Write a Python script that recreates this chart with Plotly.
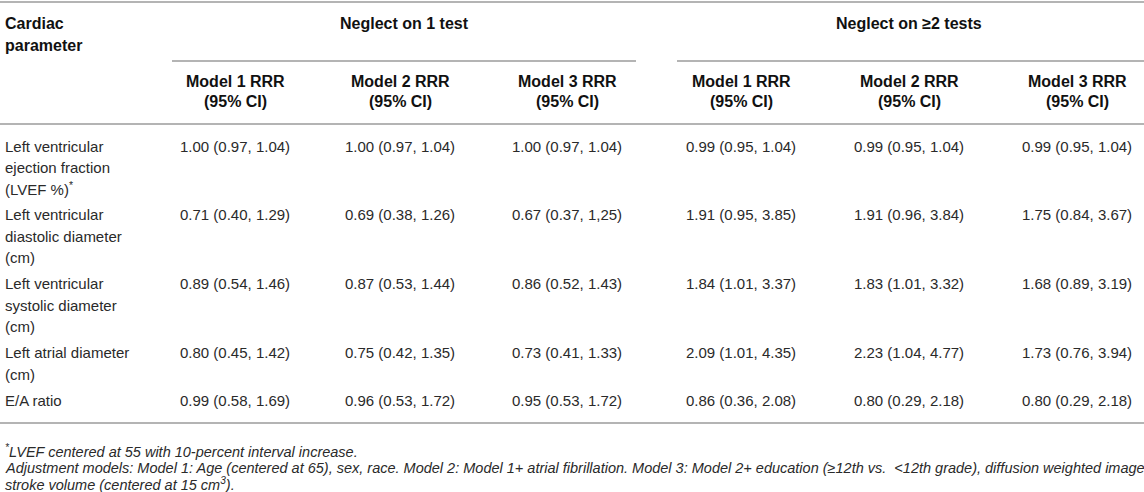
import plotly.graph_objects as go

# ---------------- data ----------------
parameters = [
    ["Left ventricular", "ejection fraction", "(LVEF %)<sup>*</sup>"],
    ["Left ventricular", "diastolic diameter", "(cm)"],
    ["Left ventricular", "systolic diameter", "(cm)"],
    ["Left atrial diameter", "(cm)"],
    ["E/A ratio"],
]
group_titles = ["Neglect on 1 test", "Neglect on ≥2 tests"]
model_headers = ["Model 1 RRR", "Model 2 RRR", "Model 3 RRR"]
ci_header = "(95% CI)"
stub_header = ["Cardiac", "parameter"]

one_test_m1 = ["1.00 (0.97, 1.04)", "0.71 (0.40, 1.29)", "0.89 (0.54, 1.46)", "0.80 (0.45, 1.42)", "0.99 (0.58, 1.69)"]
one_test_m2 = ["1.00 (0.97, 1.04)", "0.69 (0.38, 1.26)", "0.87 (0.53, 1.44)", "0.75 (0.42, 1.35)", "0.96 (0.53, 1.72)"]
one_test_m3 = ["1.00 (0.97, 1.04)", "0.67 (0.37, 1,25)", "0.86 (0.52, 1.43)", "0.73 (0.41, 1.33)", "0.95 (0.53, 1.72)"]
two_test_m1 = ["0.99 (0.95, 1.04)", "1.91 (0.95, 3.85)", "1.84 (1.01, 3.37)", "2.09 (1.01, 4.35)", "0.86 (0.36, 2.08)"]
two_test_m2 = ["0.99 (0.95, 1.04)", "1.91 (0.96, 3.84)", "1.83 (1.01, 3.32)", "2.23 (1.04, 4.77)", "0.80 (0.29, 2.18)"]
two_test_m3 = ["0.99 (0.95, 1.04)", "1.75 (0.84, 3.67)", "1.68 (0.89, 3.19)", "1.73 (0.76, 3.94)", "0.80 (0.29, 2.18)"]

footnotes = [
    "<sup>*</sup>LVEF centered at 55 with 10-percent interval increase.",
    "Adjustment models: Model 1: Age (centered at 65), sex, race. Model 2: Model 1+ atrial fibrillation. "
    "Model 3: Model 2+ education (≥12th vs.  &lt;12th grade), diffusion weighted image",
    "stroke volume (centered at 15 cm<sup>3</sup>).",
]

# ---------------- layout ----------------
W, H = 1144, 492
FONT = "Liberation Sans"
BODY = dict(family=FONT, size=15, color="#2a2a2a")
BOLD = dict(family=FONT, size=16, color="#111111")
FOOT = dict(family=FONT, size=14.5, color="#2a2a2a")
LINE = dict(color="#b4b4b4", width=2)

col_x = [235, 400, 567, 741, 909, 1077]
group_span = [(172, 636), (677, 1144)]
stub_x = 3

columns = [one_test_m1, one_test_m2, one_test_m3, two_test_m1, two_test_m2, two_test_m3]

fig = go.Figure()
ann = []


def txt(x, y, s, font, xanchor="center"):
    ann.append(dict(x=x, y=y, xref="x", yref="y", text=s, showarrow=False,
                    xanchor=xanchor, yanchor="middle", font=font, align="left"))


# header
txt(stub_x, 23, "<b>%s</b>" % stub_header[0], BOLD, "left")
txt(stub_x, 45, "<b>%s</b>" % stub_header[1], BOLD, "left")
for g, (a, b) in enumerate(group_span):
    txt((a + b) / 2 - (2 if g else 0), 23, "<b>%s</b>" % group_titles[g], BOLD)
for i, cx in enumerate(col_x):
    txt(cx, 81, "<b>%s</b>" % model_headers[i % 3], BOLD)
    txt(cx, 101, "<b>%s</b>" % ci_header, BOLD)

# body
line_h = 21.3
gap = 5
y = 146
for r, lines in enumerate(parameters):
    for k, s in enumerate(lines):
        txt(stub_x, y + k * line_h, s, BODY, "left")
    for c, cx in enumerate(col_x):
        txt(cx, y, columns[c][r], BODY)
    y += len(lines) * line_h + gap

# footnotes
for k, s in enumerate(footnotes):
    txt(stub_x, 451 + k * 16.5, "<i>%s</i>" % s, FOOT, "left")

shapes = [
    dict(type="line", xref="x", yref="y", x0=0, x1=W, y0=2, y1=2, line=LINE),
    dict(type="line", xref="x", yref="y", x0=0, x1=W, y0=124, y1=124, line=LINE),
    dict(type="line", xref="x", yref="y", x0=0, x1=W, y0=423, y1=423, line=LINE),
]
for a, b in group_span:
    shapes.append(dict(type="line", xref="x", yref="y", x0=a, x1=b, y0=61, y1=61, line=LINE))

fig.update_layout(
    width=W, height=H, margin=dict(l=0, r=0, t=0, b=0),
    paper_bgcolor="white", plot_bgcolor="white",
    xaxis=dict(range=[0, W], visible=False, fixedrange=True),
    yaxis=dict(range=[H, 0], visible=False, fixedrange=True),
    annotations=ann, shapes=shapes, showlegend=False,
)
fig.write_html(
    "out.html",
    config={"displayModeBar": False},
    post_script="document.body.style.margin='0px';document.body.style.overflow='hidden';",
)
